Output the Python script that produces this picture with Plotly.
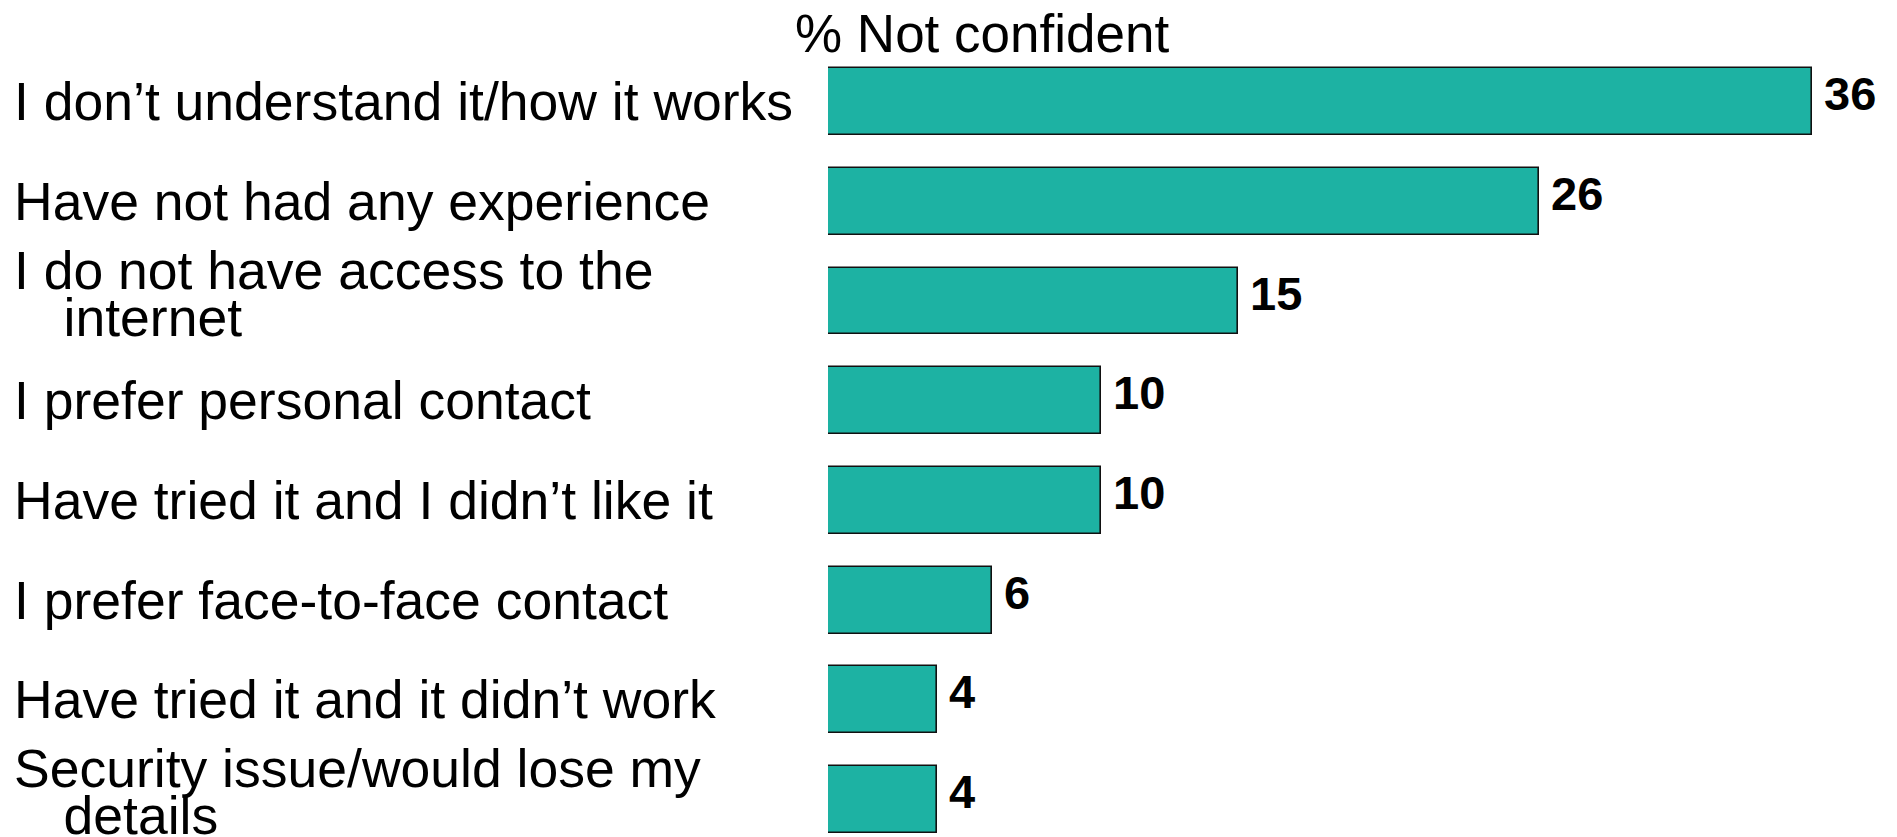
import plotly.graph_objects as go

# Reasons for not being confident (percent of respondents)
categories = [
    "I don\u2019t understand it/how it works",
    "Have not had any experience",
    "I do not have access to the<br>internet",
    "I prefer personal contact",
    "Have tried it and I didn\u2019t like it",
    "I prefer face-to-face contact",
    "Have tried it and it didn\u2019t work",
    "Security issue/would lose my<br>details",
]
values = [36, 26, 15, 10, 10, 6, 4, 4]
title_text = "% Not confident"

W, H = 1897, 837
M_L, M_R, M_T, M_B = 828, 0, 40, 0
PX_PER_UNIT = 27.33
ROW_PX = 99.7
FIRST_ROW_PX = 101.6

plot_w = W - M_L - M_R
plot_h = H - M_T - M_B
y_top = -(FIRST_ROW_PX - M_T) / ROW_PX
y_bot = (H - M_B - FIRST_ROW_PX) / ROW_PX

idx = list(range(len(categories)))

fig = go.Figure()
fig.add_trace(go.Bar(
    x=values,
    y=idx,
    orientation="h",
    width=0.67,
    marker=dict(color="#1DB2A3", line=dict(color="#111111", width=1.6)),
    hoverinfo="x",
))

label_font = dict(family="Liberation Sans, Arial, sans-serif", size=53.5, color="#000000")
title_font = dict(family="Liberation Sans, Arial, sans-serif", size=53, color="#000000")
value_font = dict(family="Liberation Sans, Arial, sans-serif", size=47, color="#000000")
label_x = (12 - M_L) / plot_w
INDENT = "\u00a0\u00a0\u00a0"

annotations = []
for i, (cat, v) in enumerate(zip(categories, values)):
    lines = cat.split("<br>")
    offsets = [0] if len(lines) == 1 else [31, -16]
    for j, (line, off) in enumerate(zip(lines, offsets)):
        annotations.append(dict(
            x=label_x, xref="paper", y=i, yref="y",
            text=(INDENT + line) if j > 0 else line,
            showarrow=False, xanchor="left", yanchor="middle",
            xshift=5 if j > 0 else 0,
            yshift=off, font=label_font,
        ))
    annotations.append(dict(
        x=v, xref="x", y=i, yref="y",
        text="<b>%d</b>" % v,
        showarrow=False, xanchor="left", yanchor="middle",
        xshift=10, yshift=8, font=value_font,
    ))

annotations.append(dict(
    x=(981.5 - M_L) / plot_w, xref="paper",
    y=(H - 33) / plot_h, yref="paper",
    text=title_text, showarrow=False,
    xanchor="center", yanchor="middle", font=title_font,
))

fig.update_layout(
    width=W, height=H,
    margin=dict(l=M_L, r=M_R, t=M_T, b=M_B, pad=0),
    paper_bgcolor="#ffffff", plot_bgcolor="#ffffff",
    showlegend=False,
    xaxis=dict(range=[0, plot_w / PX_PER_UNIT], visible=False, fixedrange=True),
    yaxis=dict(range=[y_bot, y_top], visible=False, fixedrange=True),
    annotations=annotations,
    bargap=0,
)

fig.write_html("out.html", config={"displayModeBar": False})
